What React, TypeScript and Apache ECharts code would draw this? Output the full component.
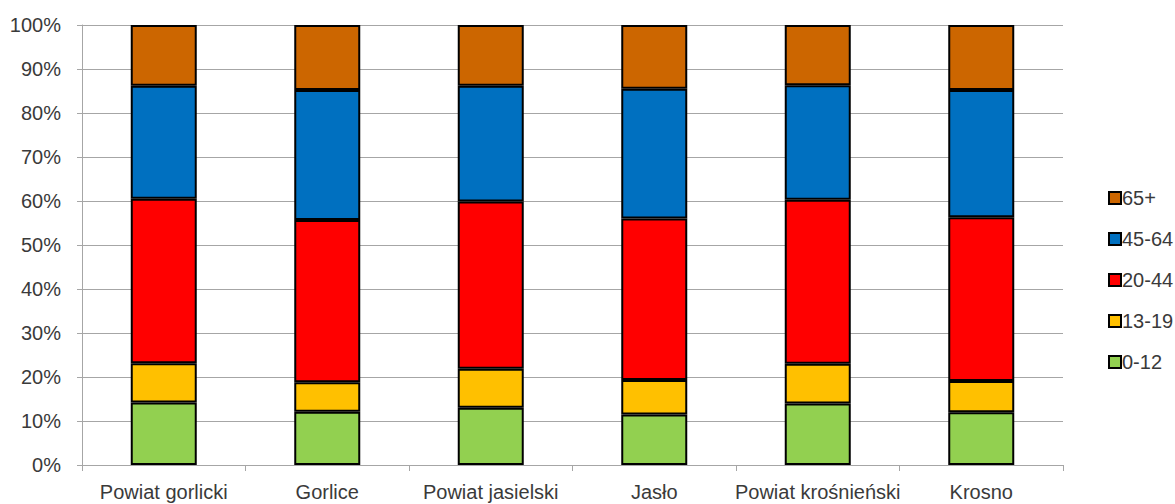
import React, { useEffect, useRef } from "react";
import * as echarts from "echarts";

const categories = [
  "Powiat gorlicki",
  "Gorlice",
  "Powiat jasielski",
  "Jasło",
  "Powiat krośnieński",
  "Krosno",
];

const age0_12 = [14.2, 12.1, 13.0, 11.5, 14.0, 12.0];
const age13_19 = [8.9, 6.7, 8.9, 7.8, 9.0, 7.1];
const age20_44 = [37.4, 36.9, 38.0, 36.7, 37.3, 37.2];
const age45_64 = [25.7, 29.5, 26.3, 29.5, 26.0, 28.9];
const age65plus = [13.8, 14.8, 13.8, 14.5, 13.7, 14.8];

const seriesNames = ["0-12", "13-19", "20-44", "45-64", "65+"];
const seriesData = [age0_12, age13_19, age20_44, age45_64, age65plus];
const seriesColors = ["#92D050", "#FFC000", "#FF0000", "#0070C0", "#CC6600"];
const legendOrder = ["65+", "45-64", "20-44", "13-19", "0-12"];

const FONT = "'Liberation Sans', Arial, sans-serif";
const TEXT = "#3a3a3a";

export default function App() {
  const ref = useRef<HTMLDivElement>(null);

  useEffect(() => {
    if (!ref.current) return;
    const chart = echarts.init(ref.current, undefined, { renderer: "svg" });
    chart.setOption({
      animation: false,
      backgroundColor: "#ffffff",
      textStyle: { fontFamily: FONT },
      grid: { left: 82, right: 112, top: 25, bottom: 39, containLabel: false },
      legend: {
        orient: "vertical",
        left: 1103,
        top: 183,
        itemWidth: 12,
        itemHeight: 12,
        itemGap: 21,
        icon: "rect",
        data: legendOrder,
        textStyle: { fontFamily: FONT, fontSize: 20, color: TEXT, padding: [0, 0, 0, -4] },
      },
      xAxis: {
        type: "category",
        data: categories,
        boundaryGap: true,
        axisLine: { lineStyle: { color: "#a6a6a6", width: 1 } },
        axisTick: { show: true, length: 6, lineStyle: { color: "#a6a6a6" } },
        axisLabel: { fontFamily: FONT, fontSize: 20, color: TEXT, margin: 17, interval: 0 },
      },
      yAxis: {
        type: "value",
        min: 0,
        max: 100,
        interval: 10,
        axisLine: { show: true, lineStyle: { color: "#a6a6a6", width: 1 } },
        axisTick: { show: true, length: 5, lineStyle: { color: "#a6a6a6" } },
        splitLine: { show: true, lineStyle: { color: "#a6a6a6", width: 1 } },
        axisLabel: {
          fontFamily: FONT,
          fontSize: 20,
          color: TEXT,
          margin: 21,
          formatter: "{value}%",
        },
      },
      series: seriesNames.map((name, i) => ({
        name,
        type: "bar",
        stack: "total",
        barWidth: 66,
        data: seriesData[i],
        itemStyle: {
          color: seriesColors[i],
          borderColor: "#000000",
          borderWidth: 2,
        },
      })),
    });
    return () => chart.dispose();
  }, []);

  return (
    <div
      ref={ref}
      style={{ position: "absolute", left: 0, top: 0, width: 1175, height: 504 }}
    />
  );
}
